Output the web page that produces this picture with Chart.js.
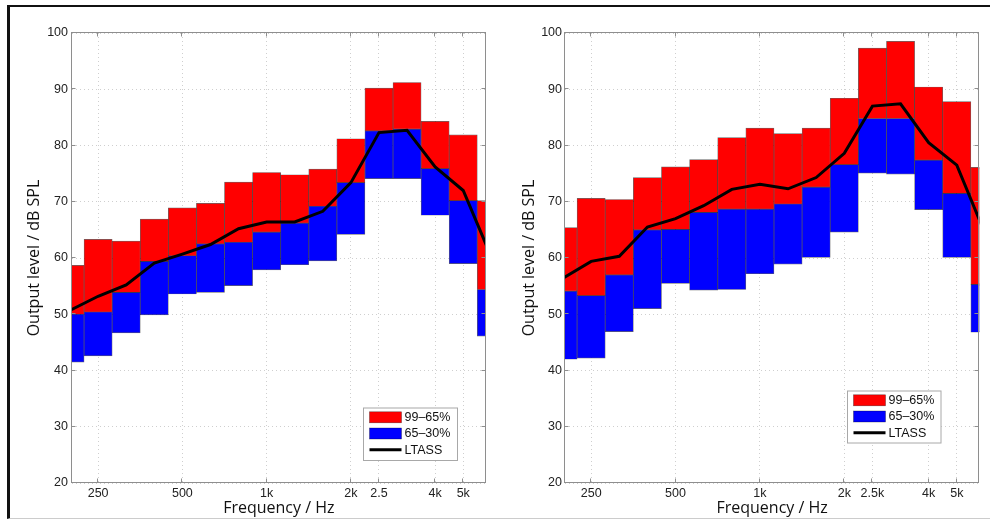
<!DOCTYPE html>
<html>
<head>
<meta charset="utf-8">
<script src="https://cdn.jsdelivr.net/npm/chart.js@4.4.0/dist/chart.umd.min.js"></script>
<style>
  html, body { margin: 0; padding: 0; background: #fff; }
  #page { position: relative; width: 990px; height: 520px; overflow: hidden; background: #fff; }
  #frame { position: absolute; left: 7px; top: 5px; width: 983px; height: 514px; box-sizing: border-box;
           border-left: 3px solid #111; border-top: 2px solid #111; border-bottom: 1px solid #ccc; }
  canvas { position: absolute; top: 0; }
</style>
</head>
<body>
<div id="page">
  <div id="frame"></div>
  <canvas id="leftChart" width="495" height="520" style="left:0"></canvas>
  <canvas id="rightChart" width="495" height="520" style="left:495px"></canvas>
</div>
<script>
// 1/3-octave band centres, Hz
const bands = [200, 250, 315, 400, 500, 630, 800, 1000, 1250, 1600, 2000, 2500, 3150, 4000, 5000, 6300];
const tickFreqs = [250, 500, 1000, 2000, 2500, 4000, 5000];
const tickLabelsLeft = ['250', '500', '1k', '2k', '2.5', '4k', '5k'];
const tickLabelsRight = ['250', '500', '1k', '2k', '2.5k', '4k', '5k'];
const seriesLabels = ['99–65%', '65–30%', 'LTASS'];

// left panel (dB SPL)
const p99Left = [58.7, 63.3, 63.0, 66.9, 68.9, 69.7, 73.5, 75.2, 74.8, 75.8, 81.2, 90.2, 91.2, 84.3, 81.9, 70.2];
const p65Left = [50.0, 50.4, 53.9, 59.4, 60.4, 62.5, 62.8, 64.6, 66.2, 69.2, 73.4, 82.6, 82.9, 75.9, 70.2, 54.4];
const p30Left = [41.5, 42.6, 46.7, 49.9, 53.6, 53.9, 55.1, 57.9, 58.8, 59.5, 64.2, 74.1, 74.1, 67.6, 59.0, 46.1];
const ltassLeft = [50.7, 53.2, 55.2, 59.1, 60.7, 62.4, 65.2, 66.4, 66.4, 68.3, 73.4, 82.3, 82.7, 76.2, 72.0, 60.2];

// right panel (dB SPL)
const p99Right = [65.4, 70.6, 70.4, 74.3, 76.2, 77.5, 81.4, 83.1, 82.1, 83.1, 88.4, 97.3, 98.5, 90.4, 87.8, 76.1];
const p65Right = [54.1, 53.3, 57.0, 65.0, 65.1, 68.1, 68.7, 68.7, 69.6, 72.6, 76.6, 84.8, 84.8, 77.4, 71.5, 55.3];
const p30Right = [42.0, 42.2, 46.9, 51.0, 55.5, 54.3, 54.4, 57.2, 58.9, 60.1, 64.6, 75.1, 74.9, 68.6, 60.1, 46.8];
const ltassRight = [56.4, 59.4, 60.3, 65.5, 67.0, 69.3, 72.2, 73.1, 72.3, 74.3, 78.6, 87.0, 87.4, 80.5, 76.5, 64.4];

Chart.defaults.font.family = "'Liberation Sans', Arial, sans-serif";
Chart.defaults.color = '#222';

// matlab style box, inward ticks and legend
const boxPlugin = {
    id: 'boxPlugin',
    afterDatasetsDraw(chart) {
        const ctx = chart.ctx;
        const a = chart.chartArea;
        const L = Math.round(a.left) - 0.5, R = Math.round(a.right) - 0.5;
        const T = Math.round(a.top) - 0.5, B = Math.round(a.bottom) - 0.5;
        ctx.save();
        ctx.strokeStyle = '#8e8e8e';
        ctx.lineWidth = 1;
        ctx.strokeRect(L, T, R - L, B - T);
        ctx.beginPath();
        chart.scales.x.ticks.forEach((t) => {
            const px = Math.round(chart.scales.x.getPixelForValue(t.value)) - 0.5;
            ctx.moveTo(px, B); ctx.lineTo(px, B - 4);
            ctx.moveTo(px, T); ctx.lineTo(px, T + 4);
        });
        chart.scales.y.ticks.forEach((t) => {
            const py = Math.round(chart.scales.y.getPixelForValue(t.value)) - 0.5;
            ctx.moveTo(L, py); ctx.lineTo(L + 4, py);
            ctx.moveTo(R, py); ctx.lineTo(R - 4, py);
        });
        ctx.stroke();
        ctx.restore();
    },
    afterDraw(chart, args, opts) {
        const ctx = chart.ctx;
        const rows = [9.8, 26, 42.2];
        ctx.save();
        ctx.fillStyle = '#fff';
        ctx.fillRect(opts.x, opts.y, opts.w, opts.h);
        ctx.strokeStyle = '#a8a8a8';
        ctx.lineWidth = 1;
        ctx.strokeRect(opts.x + 0.5, opts.y + 0.5, opts.w, opts.h);
        // legend order: red, blue, line
        const order = [1, 2, 0];
        order.forEach((di, r) => {
            const ds = chart.data.datasets[di];
            const cy = opts.y + rows[r];
            const sx = opts.x + 6.5;
            if (ds.type === 'line') {
                ctx.strokeStyle = ds.borderColor;
                ctx.lineWidth = 3;
                ctx.beginPath();
                ctx.moveTo(sx, cy); ctx.lineTo(sx + 32, cy);
                ctx.stroke();
            } else {
                ctx.fillStyle = ds.backgroundColor;
                ctx.fillRect(sx, cy - 5.5, 32, 11);
                ctx.strokeStyle = 'rgba(0,0,0,0.5)';
                ctx.lineWidth = 0.6;
                ctx.strokeRect(sx, cy - 5.5, 32, 11);
            }
            ctx.fillStyle = '#111';
            ctx.font = "12.5px 'Liberation Sans', Arial, sans-serif";
            ctx.textBaseline = 'middle';
            ctx.textAlign = 'left';
            ctx.fillText(ds.label, opts.x + 41.5, cy + 0.5);
        });
        ctx.restore();
    }
};

function makeChart(id, p99, p65, p30, ltass, tickLabels, layout) {
    const tickIdx = tickFreqs.map((f) => bands.indexOf(f));
    const barStyle = {
        grouped: false,
        barPercentage: 1,
        categoryPercentage: 1,
        borderColor: 'rgba(0,0,0,0.6)',
        borderWidth: 0.7,
        borderSkipped: false,
        clip: 0
    };
    return new Chart(document.getElementById(id), {
        type: 'bar',
        data: {
            datasets: [
                {
                    type: 'line',
                    label: seriesLabels[2],
                    data: ltass.map((v, i) => ({ x: i, y: v })),
                    borderColor: '#000',
                    borderWidth: 3,
                    pointRadius: 0,
                    tension: 0,
                    clip: 0,
                    order: 0
                },
                Object.assign({
                    label: seriesLabels[0],
                    data: p99.map((v, i) => ({ x: i, y: [p65[i], v] })),
                    backgroundColor: '#ff0000',
                    order: 1
                }, barStyle),
                Object.assign({
                    label: seriesLabels[1],
                    data: p65.map((v, i) => ({ x: i, y: [p30[i], v] })),
                    backgroundColor: '#0000ff',
                    order: 2
                }, barStyle)
            ]
        },
        options: {
            responsive: false,
            animation: false,
            layout: { padding: { top: 33, right: layout.right, bottom: 0, left: 0 } },
            plugins: {
                legend: { display: false },
                tooltip: { enabled: false },
                boxPlugin: layout.legend
            },
            scales: {
                x: {
                    type: 'linear',
                    min: 0.07,
                    max: 14.8,
                    offset: false,
                    afterBuildTicks: (scale) => {
                        scale.ticks = tickIdx.map((v) => ({ value: v }));
                    },
                    afterFit: (scale) => { scale.height = 37; },
                    ticks: {
                        autoSkip: false,
                        maxRotation: 0,
                        padding: 3,
                        font: { size: 12.5 },
                        color: '#222',
                        callback: (value, index) => tickLabels[index]
                    },
                    grid: { offset: false, drawTicks: false, color: '#cfcfcf', lineWidth: 1 },
                    border: { display: false, dash: [1, 3] },
                    title: {
                        display: true,
                        text: 'Frequency / Hz',
                        font: { family: "'Open Sans', sans-serif", size: 16 },
                        color: '#111',
                        padding: { top: 0, bottom: 2.4 }
                    }
                },
                y: {
                    min: 20,
                    max: 100,
                    afterFit: (scale) => { scale.width = layout.yWidth; },
                    ticks: {
                        stepSize: 10,
                        padding: layout.tickPad,
                        font: { size: 12.5 },
                        color: '#222'
                    },
                    grid: { drawTicks: false, color: '#cfcfcf', lineWidth: 1 },
                    border: { display: false, dash: [1, 3] },
                    title: {
                        display: true,
                        text: 'Output level / dB SPL',
                        font: { family: "'Open Sans', sans-serif", size: 16 },
                        color: '#111',
                        padding: { top: 24.4, bottom: 0 }
                    }
                }
            }
        },
        plugins: [boxPlugin]
    });
}

makeChart('leftChart', p99Left, p65Left, p30Left, ltassLeft, tickLabelsLeft, {
    right: 9.3, yWidth: 72, tickPad: 4,
    legend: { x: 363, y: 407.5, w: 94, h: 52.5 }
});
makeChart('rightChart', p99Right, p65Right, p30Right, ltassRight, tickLabelsRight, {
    right: 10.7, yWidth: 70, tickPad: 3,
    legend: { x: 352, y: 390.5, w: 93.5, h: 52 }
});
</script>
</body>
</html>
